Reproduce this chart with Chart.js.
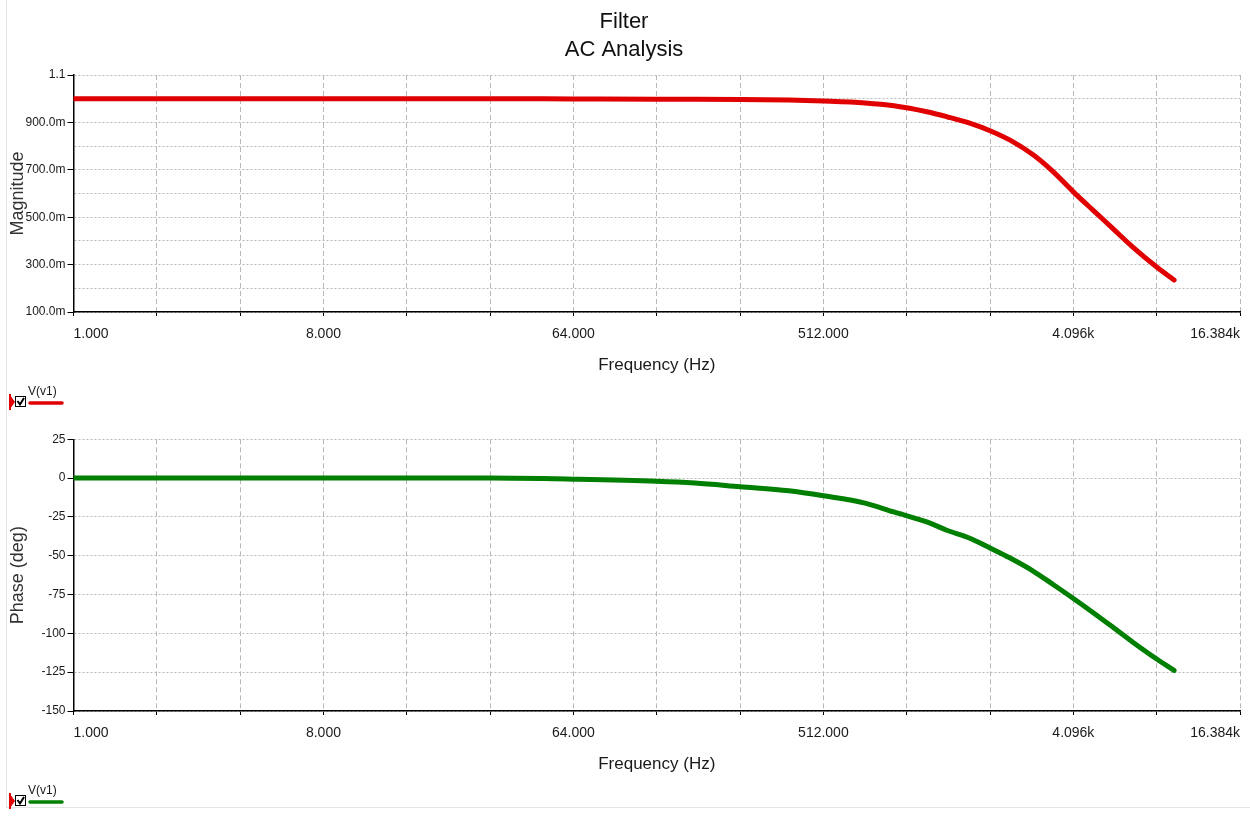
<!DOCTYPE html>
<html>
<head>
<meta charset="utf-8">
<script src="https://cdn.jsdelivr.net/npm/chart.js@4.4.0/dist/chart.umd.min.js"></script>
<style>
  html, body { margin: 0; padding: 0; background: #fff; }
  body { width: 1250px; height: 817px; position: relative; overflow: hidden; }
  #frame { position: absolute; left: 6px; top: 0; width: 1244px; height: 807px;
           border-left: 1px solid #e4e4e4; border-bottom: 1px solid #e4e4e4; }
  canvas { position: absolute; left: 0; }
  #mag { top: 0; }
  #phase { top: 410px; }
</style>
</head>
<body>
<div id="frame"></div>
<canvas id="mag" width="1250" height="410"></canvas>
<canvas id="phase" width="1250" height="407"></canvas>
<script>
// AC analysis of the filter, V(v1)
// values

var freqs = [1, 10, 32, 64, 128, 176, 256, 384, 512, 724, 920, 1210, 1430, 1740,
             2048, 2420, 2940, 3460, 4096, 4820, 5680, 6700, 8192, 9470];
var magnitude = [1.0, 1.0, 1.0, 0.999, 0.998, 0.998, 0.997, 0.994, 0.99, 0.982, 0.97,
                 0.945, 0.924, 0.896, 0.865, 0.825, 0.762, 0.692, 0.607, 0.53, 0.453,
                 0.375, 0.29, 0.235];
var phase = [0, 0, 0, -0.7, -2, -3.2, -5.6, -8.2, -11.4, -16.1, -21.8, -28.2, -33.6,
             -38.9, -45, -51.5, -60, -68.5, -77.5, -86.5, -95.9, -105.5, -116.5, -123.8];

// tick positions
var freqTicks = [1, 2, 4, 8, 16, 32, 64, 128, 256, 512, 1024, 2048, 4096, 8192, 16384];
var magTicks = [0.1, 0.2, 0.3, 0.4, 0.5, 0.6, 0.7, 0.8, 0.9, 1.0, 1.1];
var phaseTicks = [-150, -125, -100, -75, -50, -25, 0, 25];

var sans = "'Liberation Sans', Arial, sans-serif";
Chart.defaults.font.family = sans;
Chart.defaults.color = '#1a1a1a';

function pts(ys) {
  return freqs.map(function (f, i) { return { x: f, y: ys[i] }; });
}

// label every third octave, plus the end of the axis
function freqLabel(v) {
  var oct = Math.round(Math.log2(v));
  var last = freqTicks[freqTicks.length - 1];
  if (oct % 3 !== 0 && v !== last) return '';
  if (v >= 1000) return (v / 1000).toFixed(3) + 'k';
  return v.toFixed(3);
}

function magLabel(v) {
  var n = Math.round(v * 10);
  if (n % 2 === 0) return '';
  if (n === 11) return '1.1';
  return (n * 100).toFixed(1) + 'm';
}

// little legend under each plot: marker, checkbox, V(v1) and the trace colour
function legendPlugin(color, y) {
  return {
    id: 'vlegend',
    afterDraw: function (chart) {
      var ctx = chart.ctx;
      ctx.save();
      // red marker
      ctx.fillStyle = '#e00000';
      ctx.beginPath();
      ctx.moveTo(10, y - 7);
      ctx.lineTo(15, y);
      ctx.lineTo(10, y + 7);
      ctx.closePath();
      ctx.fill();
      ctx.fillRect(9, y - 8, 2, 16);
      // checkbox
      ctx.fillStyle = '#fff';
      ctx.fillRect(15.5, y - 5.5, 10, 10);
      ctx.strokeStyle = '#000';
      ctx.lineWidth = 1;
      ctx.strokeRect(15.5, y - 5.5, 10, 10);
      ctx.lineWidth = 2;
      ctx.beginPath();
      ctx.moveTo(17.5, y - 1);
      ctx.lineTo(20, y + 2.5);
      ctx.lineTo(24, y - 4);
      ctx.stroke();
      // label
      ctx.fillStyle = '#1a1a1a';
      ctx.font = "12px " + sans;
      ctx.textBaseline = 'alphabetic';
      ctx.fillText('V(v1)', 28, y - 7);
      // trace colour
      ctx.strokeStyle = color;
      ctx.lineWidth = 3.5;
      ctx.lineCap = 'round';
      ctx.beginPath();
      ctx.moveTo(30, y + 1);
      ctx.lineTo(62, y + 1);
      ctx.stroke();
      ctx.restore();
    }
  };
}

function xAxis() {
  return {
    type: 'logarithmic',
    min: 1,
    max: 16384,
    afterBuildTicks: function (s) {
      s.ticks = freqTicks.map(function (v) { return { value: v }; });
    },
    afterFit: function (s) { s.height = 78; },
    ticks: {
      autoSkip: false,
      maxRotation: 0,
      align: 'inner',
      padding: 10,
      font: { size: 14 },
      callback: function (v) { return freqLabel(v); }
    },
    grid: { color: '#b8b8b8', lineWidth: 1, tickLength: 4, tickColor: '#000' },
    border: { display: true, color: '#000', width: 1.5, dash: [5, 3] },
    title: {
      display: true,
      text: 'Frequency (Hz)',
      font: { size: 17, lineHeight: 1.2 },
      padding: { top: 0, bottom: 14 }
    }
  };
}

function yAxis(min, max, ticks, label, cb) {
  return {
    type: 'linear',
    min: min,
    max: max,
    afterBuildTicks: function (s) {
      s.ticks = ticks.map(function (v) { return { value: v }; });
    },
    afterFit: function (s) { s.width = 73.5; },
    ticks: {
      autoSkip: false,
      padding: 2,
      font: { size: 12 },
      callback: cb
    },
    grid: {
      color: '#b8b8b8',
      lineWidth: 1,
      tickLength: 6,
      // tick marks only where there is a label
      tickColor: function (c) {
        return c.tick && c.tick.label !== '' ? '#000' : 'rgba(0,0,0,0)';
      }
    },
    border: { display: true, color: '#000', width: 1.5, dash: [2, 2] },
    title: {
      display: true,
      text: label,
      font: { size: 18, lineHeight: 1.2 },
      padding: { top: 7, bottom: 0 },
      color: '#333'
    }
  };
}

var MagnitudeChart = new Chart(document.getElementById('mag'), {
  type: 'line',
  data: {
    datasets: [{
      label: 'V(v1)',
      data: pts(magnitude),
      borderColor: '#e00000',
      borderWidth: 5,
      pointRadius: 0,
      cubicInterpolationMode: 'monotone',
      borderCapStyle: 'round',
      borderJoinStyle: 'round'
    }]
  },
  options: {
    responsive: false,
    animation: false,
    layout: { padding: { left: 0, right: 2, top: 0, bottom: 20 } },
    plugins: {
      legend: { display: false },
      tooltip: { enabled: false },
      title: {
        display: true,
        text: ['Filter', 'AC Analysis'],
        font: { size: 22, weight: 'normal', lineHeight: '28px' },
        color: '#111',
        padding: { top: 8, bottom: 11 }
      }
    },
    scales: {
      x: xAxis(),
      y: yAxis(0.1, 1.1, magTicks, 'Magnitude', function (v) { return magLabel(v); })
    }
  },
  plugins: [legendPlugin('#e00000', 402)]
});

var PhaseChart = new Chart(document.getElementById('phase'), {
  type: 'line',
  data: {
    datasets: [{
      label: 'V(v1)',
      data: pts(phase),
      borderColor: '#007f00',
      borderWidth: 5,
      pointRadius: 0,
      cubicInterpolationMode: 'monotone',
      borderCapStyle: 'round',
      borderJoinStyle: 'round'
    }]
  },
  options: {
    responsive: false,
    animation: false,
    layout: { padding: { left: 0, right: 2, top: 29.3, bottom: 28 } },
    plugins: {
      legend: { display: false },
      tooltip: { enabled: false },
      title: { display: false }
    },
    scales: {
      x: xAxis(),
      y: yAxis(-150, 25, phaseTicks, 'Phase (deg)', function (v) { return String(v); })
    }
  },
  plugins: [legendPlugin('#007f00', 391)]
});
</script>
</body>
</html>
